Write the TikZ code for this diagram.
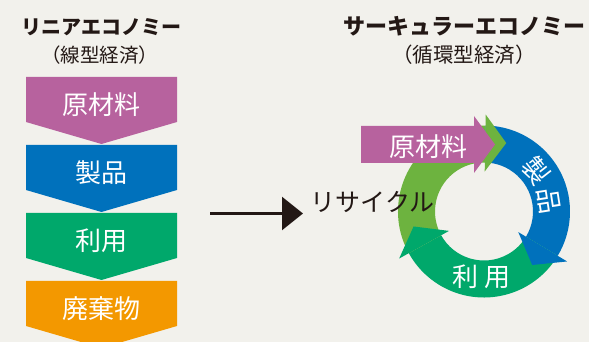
\documentclass[tikz,border=0pt]{standalone}
\usepackage{fontspec}
\setmainfont{Noto Sans CJK JP}
\usetikzlibrary{arrows.meta}
\definecolor{bg}{HTML}{F2F1EC}
\definecolor{cpurple}{HTML}{B7629E}
\definecolor{cblue}{HTML}{0071BC}
\definecolor{cgreen}{HTML}{00A86B}
\definecolor{clgreen}{HTML}{6DB33F}
\definecolor{corange}{HTML}{F39800}
\definecolor{ctext}{HTML}{231815}
\begin{document}
\begin{tikzpicture}[x=1pt,y=1pt,
  ltitle/.style={font=\fontsize{20}{20}\selectfont\bfseries, text=ctext, inner sep=0pt},
  rtitle/.style={font=\fontsize{22}{22}\selectfont\bfseries, text=ctext, inner sep=0pt},
  lsub/.style={font=\fontsize{19.5}{19.5}\selectfont, text=ctext, inner sep=0pt},
  rsub/.style={font=\fontsize{20.5}{20.5}\selectfont, text=ctext, inner sep=0pt},
  boxtext/.style={font=\fontsize{26}{26}\selectfont, text=white, inner sep=0pt},
  darktext/.style={font=\fontsize{25}{25}\selectfont, text=ctext, inner sep=0pt},
  flowarrow/.style={line width=2.5pt, draw=ctext, -{Triangle[length=21pt,width=33pt]}}
]
\useasboundingbox (0,0) rectangle (589,342);
\fill[bg] (0,0) rectangle (589,342);

% titles
\node[ltitle] (lt) at (101,315) {リニアエコノミー};
\node[lsub] (ls) at (100,287) {（線型経済）};
\node[rtitle] (rt) at (464,316) {サーキュラーエコノミー};
\node[rsub] (rs) at (464,287) {（循環型経済）};

% linear chevrons
\foreach \i/\c/\t/\n in {0/cpurple/原材料/a, 1/cblue/製品/b, 2/cgreen/利用/c, 3/corange/廃棄物/d}{
  \pgfmathsetmacro\yt{342-77-68*\i}
  \fill[\c] (26,\yt) -- (177,\yt) -- (177,\yt-45) -- (101.5,\yt-67) -- (26,\yt-45) -- cycle;
  \node[boxtext] (L\n) at (101.5,\yt-28) {\t};
}

% arrow
\coordinate (hs) at (210,128.5);
\coordinate (he) at (303,128.5);
\draw[flowarrow] (hs) -- (he);

% ring
\begin{scope}[shift={(484,130.5)}]
  \def\Ro{86}\def\Ri{49}
  \fill[cblue] (89:\Ro) arc[start angle=89,end angle=-31,radius=\Ro] -- (-31:\Ri) arc[start angle=-31,end angle=89,radius=\Ri] -- cycle;
  \fill[cgreen] (-31:\Ro) arc[start angle=-31,end angle=-151,radius=\Ro] -- (-151:\Ri) arc[start angle=-151,end angle=-31,radius=\Ri] -- cycle;
  \fill[clgreen] (209:\Ro) arc[start angle=209,end angle=89,radius=\Ro] -- (89:\Ri) arc[start angle=89,end angle=209,radius=\Ri] -- cycle;
  \fill[cblue] (-31:40) -- (-31:97) -- (-48:72) -- cycle;
  \fill[cgreen] (-151:40) -- (-151:97) -- (-168:72) -- cycle;
  \fill[clgreen] (89:40) -- (89:97) -- (72:72) -- cycle;
  \node[boxtext, rotate=-52] (Rb1) at (38:66) {製};
  \node[boxtext, rotate=-81] (Rb2) at (9:66) {品};
\end{scope}
\node[boxtext] (Rc) at (481.5,65) {利\kern6pt 用};

% raw material arrow
\fill[cpurple] (361,179) -- (474,179) -- (474,169) -- (495,197.5) -- (474,226) -- (474,216) -- (361,216) -- cycle;
\node[boxtext] (Ra) at (428,195) {原材料};

\node[darktext] (rec) at (372.5,140) {リサイクル};
\end{tikzpicture}
\end{document}
